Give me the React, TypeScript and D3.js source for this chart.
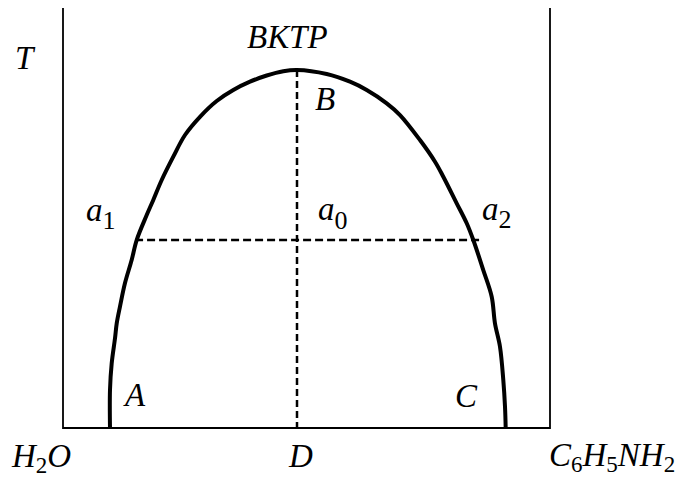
import React from "react";
import * as d3 from "d3";

// Aniline–water phase diagram: mutual solubility curve with upper critical point B.
// Composition axis: % aniline (0 = H2O, 100 = C6H5NH2); temperature in relative units.

const leftBranchX = [9.65, 9.65, 10.0, 10.68, 11.03, 11.7, 12.73, 14.1, 15.13, 17.19, 18.54, 20.27, 22.65, 25.05, 28.13, 31.56, 34.97, 38.4, 41.83, 45.24, 48.05];
const leftBranchT = [0, 9.05, 15.4, 21.36, 24.9, 28.9, 34.5, 40.0, 44.76, 50.7, 54.3, 59.05, 64.6, 69.76, 74.1, 77.86, 80.48, 82.45, 83.93, 84.95, 85.24];
const rightBranchX = [54.14, 58.93, 62.36, 66.47, 69.2, 73.3, 76.39, 78.09, 80.84, 82.9, 84.25, 86.3, 88.03, 88.7, 89.73, 90.41, 90.76, 90.9];
const rightBranchT = [84.29, 82.45, 80.48, 77.31, 74.52, 68.57, 63.4, 59.83, 53.5, 48.74, 44.76, 37.6, 31.26, 24.93, 19.36, 11.43, 5.07, 0];

const criticalX = 48.05;
const criticalT = 85.24;
const tieLineT = 44.76;
const tieLineX = [14.8, 85.7];

const width = 684;
const height = 477;

const x = d3.scaleLinear().domain([0, 100]).range([63, 550]);
const y = d3.scaleLinear().domain([0, 100]).range([428, 8]);

const FONT = `"Liberation Serif"`;

export default function App() {
  const pts: [number, number][] = [
    ...leftBranchX.map((v, i) => [v, leftBranchT[i]] as [number, number]),
    ...rightBranchX.map((v, i) => [v, rightBranchT[i]] as [number, number]),
  ];
  const line = d3
    .line<[number, number]>()
    .x((d) => x(d[0]))
    .y((d) => y(d[1]))
    .curve(d3.curveCatmullRom.alpha(0.5));

  const textStyle: React.CSSProperties = {
    fontFamily: FONT,
    fontStyle: "italic",
    fontSize: 33,
    fill: "#000",
  };
  const Label = (props: { x: number; y: number; children: React.ReactNode }) => (
    <text x={props.x} y={props.y} style={textStyle}>
      {props.children}
    </text>
  );
  const sub = (t: string, size: number, dy: number) => (
    <tspan style={{ fontStyle: "normal", fontSize: size }} dy={dy}>
      {t}
    </tspan>
  );

  return (
    <svg
      width={width}
      height={height}
      style={{ position: "absolute", left: 0, top: 0, background: "#fff" }}
    >
      <rect width={width} height={height} fill="#fff" />
      {/* frame: temperature axes on both sides and composition baseline */}
      <path
        d={`M${x(0)},${y(100)}V${y(0)}H${x(100)}V${y(100)}`}
        fill="none"
        stroke="#000"
        strokeWidth={1.8}
      />
      {/* tie line and critical isopleth */}
      <line
        x1={x(tieLineX[0])}
        x2={x(tieLineX[1])}
        y1={y(tieLineT)}
        y2={y(tieLineT)}
        stroke="#000"
        strokeWidth={2.5}
        strokeDasharray="8,4"
      />
      <line
        x1={x(criticalX)}
        x2={x(criticalX)}
        y1={y(criticalT)}
        y2={y(0)}
        stroke="#000"
        strokeWidth={2.5}
        strokeDasharray="7,4"
      />
      {/* binodal curve */}
      <path d={line(pts) ?? ""} fill="none" stroke="#000" strokeWidth={4} strokeLinejoin="round" />

      <Label x={15} y={69}>T</Label>
      <Label x={247} y={48}>ВКТР</Label>
      <Label x={315} y={110}>B</Label>
      <Label x={86} y={221}>
        a{sub("1", 26, 8)}
      </Label>
      <Label x={318} y={220}>
        a{sub("0", 26, 9)}
      </Label>
      <Label x={482} y={220}>
        a{sub("2", 26, 8)}
      </Label>
      <Label x={125} y={406}>A</Label>
      <Label x={455} y={407}>C</Label>
      <Label x={12} y={467}>
        H{sub("2", 23, 6)}
        <tspan dy={-6}>O</tspan>
      </Label>
      <Label x={289} y={467}>D</Label>
      <Label x={549} y={466}>
        C{sub("6", 23, 6)}
        <tspan dy={-6}>H</tspan>
        {sub("5", 23, 6)}
        <tspan dy={-6}>NH</tspan>
        {sub("2", 23, 6)}
      </Label>
    </svg>
  );
}
